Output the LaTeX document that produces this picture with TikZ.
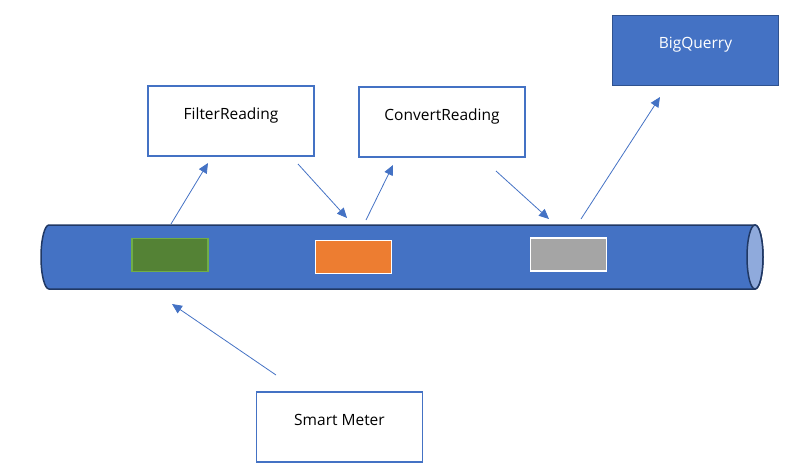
\documentclass[tikz,border=0pt]{standalone}
\usepackage{fontspec}
\setmainfont{Open Sans}
\usetikzlibrary{arrows.meta}
\definecolor{accent}{HTML}{4472C4}
\definecolor{navy}{HTML}{203864}
\definecolor{bqborder}{HTML}{2F528F}
\definecolor{capfill}{HTML}{8FAADC}
\definecolor{greenfill}{HTML}{548235}
\definecolor{greenedge}{HTML}{70AD47}
\definecolor{orangefill}{HTML}{ED7D31}
\definecolor{grayfill}{HTML}{A5A5A5}
\begin{document}
\begin{tikzpicture}[x=1pt,y=-1pt,
  procbox/.style={draw=accent, line width=1.8pt, fill=white, minimum width=166pt, minimum height=70pt, inner sep=0pt, text height=12pt, text depth=16pt, font=\fontsize{15.5}{18}\selectfont},
  flow/.style={draw=accent, line width=0.8pt, -{Triangle[length=10pt,width=9pt]}},
  msg/.style={line width=1.5pt, minimum width=76pt, minimum height=33pt, inner sep=0pt}]
\useasboundingbox (0,0) rectangle (804,474);
% pipe
\draw[navy, line width=1.5pt, fill=accent]
  (755,225) -- (49,225) arc[start angle=270, end angle=90, x radius=8, y radius=32]
  -- (755,289) arc[start angle=90, end angle=-90, x radius=8, y radius=32] -- cycle;
\draw[navy, line width=1.5pt, fill=capfill] (755,257) ellipse[x radius=8, y radius=32];
% messages
\node[msg, draw=greenedge, fill=greenfill] (m1) at (170,255) {};
\node[msg, draw=white, fill=orangefill] (m2) at (353.5,257) {};
\node[msg, draw=white, fill=grayfill] (m3) at (568.5,254.5) {};
% boxes
\node[procbox] (filter) at (231,121) {FilterReading};
\node[procbox] (convert) at (442,122) {ConvertReading};
\node[procbox, draw=bqborder, fill=accent, text=white] (bq) at (695.5,50.5) {BigQuerry};
\node[procbox] (meter) at (339.5,427) {Smart Meter};
% connector ends
\coordinate (a1s) at (171,224); \coordinate (a1e) at (208,163);
\coordinate (a2s) at (298,164); \coordinate (a2e) at (347,218);
\coordinate (a3s) at (366,220); \coordinate (a3e) at (393,165);
\coordinate (a4s) at (496,171); \coordinate (a4e) at (549,219);
\coordinate (a5s) at (581,219); \coordinate (a5e) at (660,97);
\coordinate (a6s) at (276,375); \coordinate (a6e) at (172,304);
\draw[flow] (a1s) -- (a1e);
\draw[flow] (a2s) -- (a2e);
\draw[flow] (a3s) -- (a3e);
\draw[flow] (a4s) -- (a4e);
\draw[flow] (a5s) -- (a5e);
\draw[flow] (a6s) -- (a6e);
\end{tikzpicture}
\end{document}
